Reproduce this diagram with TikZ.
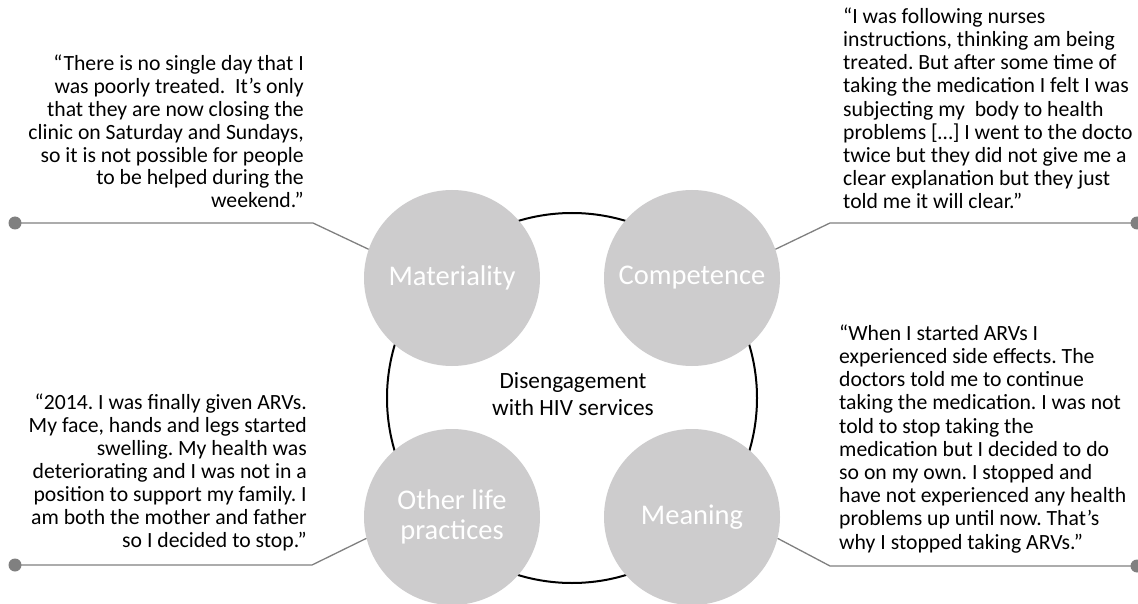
\documentclass[tikz,border=0pt]{standalone}
\usepackage{fontspec}
\setmainfont{Carlito}
\frenchspacing
\definecolor{circgray}{HTML}{CDCCCD}
\definecolor{linegray}{HTML}{808080}
\begin{document}
\begin{tikzpicture}[x=1pt,y=-1pt,
  theme/.style={circle,fill=circgray,draw=none,minimum size=176pt,inner sep=0pt,
    text=white,font=\fontsize{28.5}{30}\selectfont,align=center},
  quoteR/.style={align=right,inner sep=0pt,font=\fontsize{21.7}{23}\selectfont},
  quoteL/.style={align=left,inner sep=0pt,font=\fontsize{21.7}{23.2}\selectfont},
  conn/.style={draw=linegray,line width=1.3pt},
  dotc/.style={fill=linegray}]
\clip (0,0) rectangle (1138,604);
\fill[white] (0,0) rectangle (1138,604);
% central ring
\node[circle,draw=black,line width=2pt,minimum size=370pt,inner sep=0pt] (ring) at (572,398) {};
\node[align=center,font=\fontsize{23.3}{26.7}\selectfont] (core) at (573,394) {Disengagement\\with HIV services};
% theme circles
\node[theme] (mat) at (452,278) {Materiality};
\node[theme] (comp) at (692,278) {Competence};
\node[theme] (oth) at (452,517) {Other life\\practices};
\node[theme] (mean) at (692,517) {Meaning};
% connector points
\coordinate (d1) at (15,223);   \coordinate (e1) at (313,223);
\coordinate (d2) at (1137,223); \coordinate (e2) at (830,223);
\coordinate (d3) at (15,565);   \coordinate (e3) at (312,565);
\coordinate (d4) at (1137,566); \coordinate (e4) at (830,566);
\draw[conn] (d1) -- (e1) -- (mat.161.6);
\draw[conn] (d2) -- (e2) -- (comp.19);
\draw[conn] (d3) -- (e3) -- (oth.194);
\draw[conn] (d4) -- (e4) -- (mean.346);
\fill[dotc] (d1) circle (6.5);
\fill[dotc] (d2) circle (6.5);
\fill[dotc] (d3) circle (6.5);
\fill[dotc] (d4) circle (6.5);
% quotes (anchor at baseline of last line)
\node[quoteR,anchor=base east] (q1) at (304,208) {\textquotedblleft There is no single day that I\\was poorly treated.\ \ It\textquoteright s only\\that they are now closing the\\clinic on Saturday and Sundays,\\so it is not possible for people\\to be helped during the\\weekend.\textquotedblright};
\node[quoteL,anchor=base west] (q2) at (843,209) {\textquotedblleft I was following nurses\\instructions, thinking am being\\treated. But after some time of\\taking the medication I felt I was\\subjecting my\ \ body to health\\problems [\ldots] I went to the docto\\twice but they did not give me a\\clear explanation but they just\\told me it will clear.\textquotedblright};
\node[quoteR,anchor=base east] (q3) at (307,547) {\textquotedblleft 2014. I was finally given ARVs.\\My face, hands and legs started\\swelling. My health was\\deteriorating and I was not in a\\position to support my family. I\\am both the mother and father\\so I decided to stop.\textquotedblright};
\node[quoteL,anchor=base west] (q4) at (839,549) {\textquotedblleft When I started ARVs I\\experienced side effects. The\\doctors told me to continue\\taking the medication. I was not\\told to stop taking the\\medication but I decided to do\\so on my own. I stopped and\\have not experienced any health\\problems up until now. That\textquoteright s\\why I stopped taking ARVs.\textquotedblright};
\end{tikzpicture}
\end{document}
